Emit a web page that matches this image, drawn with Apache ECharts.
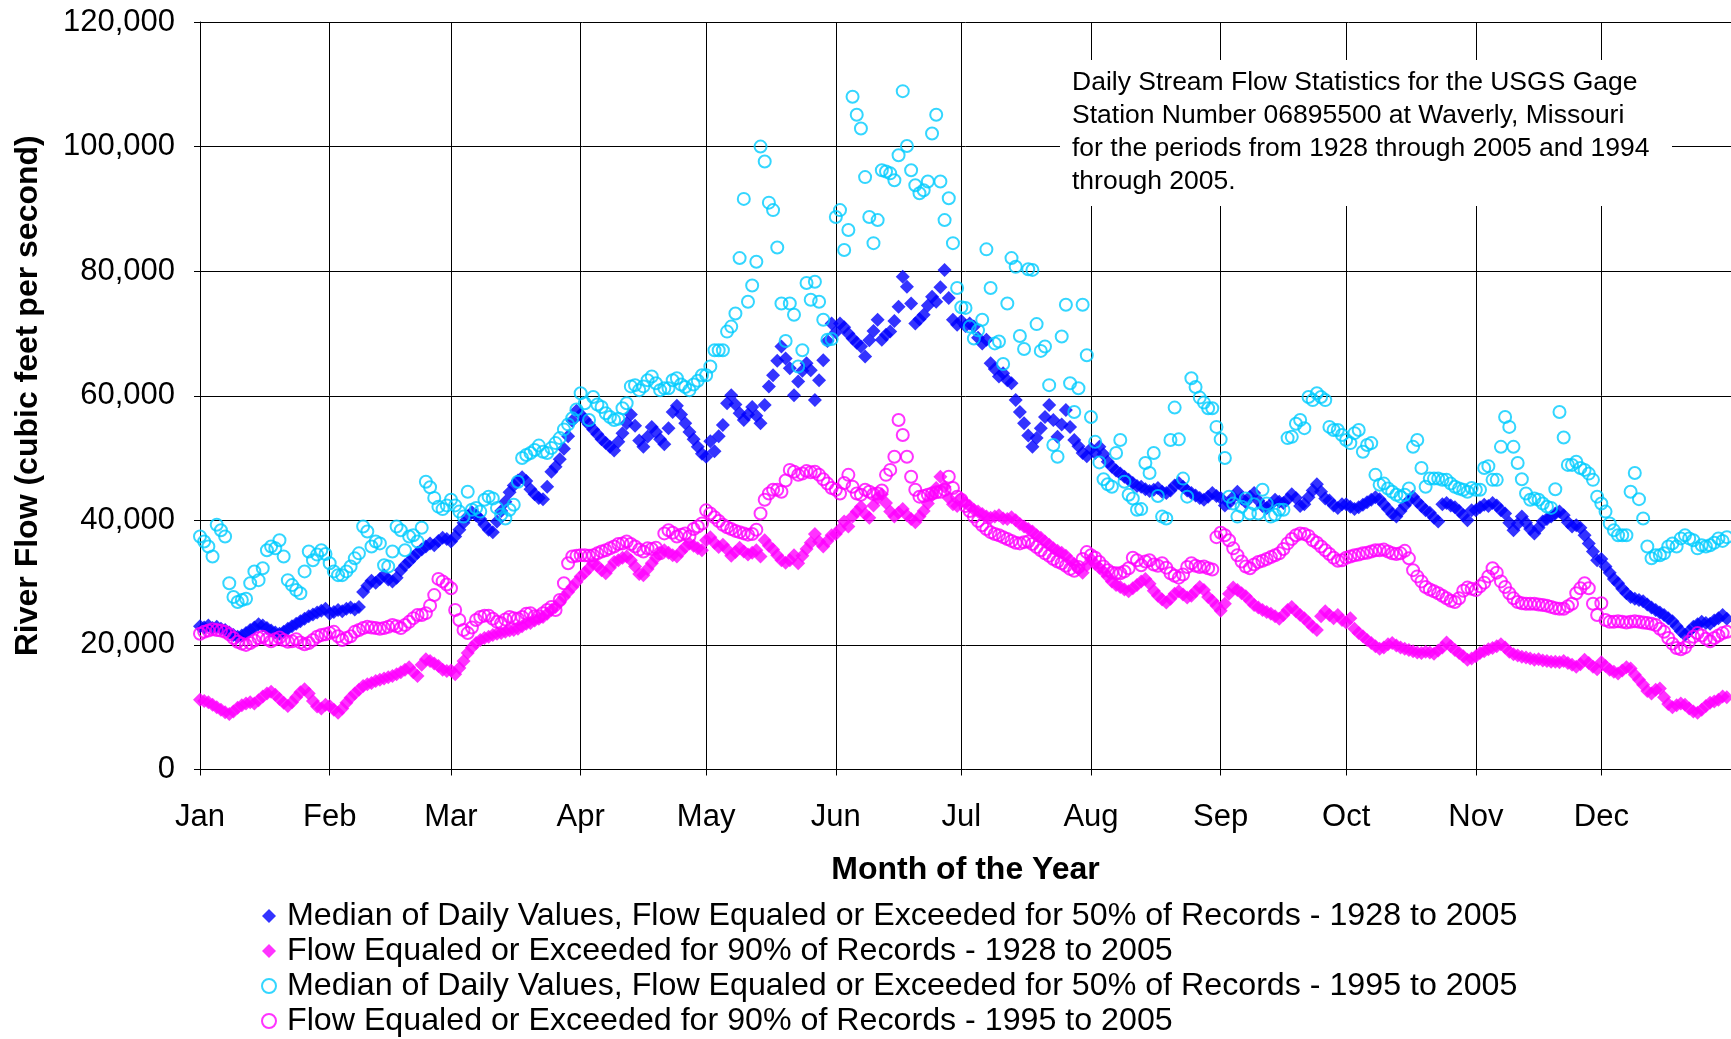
<!DOCTYPE html>
<html>
<head>
<meta charset="utf-8">
<title>Daily Stream Flow - Waverly, Missouri</title>
<script src="https://cdn.jsdelivr.net/npm/echarts@6/dist/echarts.min.js"></script>
<style>
  html, body { margin: 0; padding: 0; background: #fff; }
  #chart { width: 1731px; height: 1039px; }
</style>
</head>
<body>
<div id="chart"></div>
<script>
// month names and lengths (366-day year) -> one category per day
const months = ["Jan", "Feb", "Mar", "Apr", "May", "Jun", "Jul", "Aug", "Sep", "Oct", "Nov", "Dec"];
const monthDays = [31, 29, 31, 30, 31, 30, 31, 31, 30, 31, 30, 31];
const yTicks = [0, 20000, 40000, 60000, 80000, 100000, 120000];

// Median 1928-2005 (one row per month)
const median1928 = [
  23000,22800,23100,22700,22900,22600,22400,22000,21600,21300,21500,21900,22400,22800,23300,23100,22700,22300,22000,21800,22100,22600,23000,23400,23800,24200,24600,24900,25200,25500,25800,
  25000,25300,25600,25400,25800,26000,25700,26100,28500,29500,30300,30000,30600,31200,30500,30200,30800,32000,32800,33400,34100,34800,35300,35800,36300,36000,36700,37200,37000,
  36600,37400,38500,39600,40600,41300,40800,40200,39300,38500,38100,39800,41500,43000,44500,45600,46400,46900,46300,45000,44200,43600,43400,45400,47800,48600,49800,51500,53500,56000,57600,
  57000,56200,55400,54600,53800,53000,52400,51800,51200,52600,54000,55600,57000,55200,52800,51800,53400,55000,54200,53000,52200,54800,57400,58400,57000,55600,54200,53000,51800,50700,
  50200,52700,51100,53500,55300,58800,60100,58600,57200,56100,57000,58200,56800,55600,58500,61500,63300,65600,67900,66000,64400,60100,62300,64000,65200,64100,59300,62500,65700,68800,71600,
  70200,71600,71000,70000,69200,68500,67900,66300,68900,70400,72200,69000,69800,70300,72000,74300,79100,77500,74800,71600,72300,73000,74500,75900,75100,77400,80200,75700,72200,71400,
  72000,71200,71600,71100,69300,68400,69000,65200,64300,63100,63600,62500,62000,59300,57400,55600,53600,51800,53200,54800,56600,58500,56100,53400,55400,57700,55000,52900,51900,50800,50300,
  51500,50800,51800,50600,49400,48600,48000,47500,47000,46500,46000,45500,45400,45000,44700,44900,45200,44600,44400,44800,45600,46000,45400,44800,44400,44000,43600,43300,43800,44400,43900,
  43600,42400,42800,43700,44600,43500,42900,43800,44400,43200,42300,42000,42600,43300,43000,42800,43400,44200,43600,42300,42600,43700,44800,45800,44600,43500,43200,42400,42000,42600,
  42600,42200,41800,42100,42500,42900,43300,43700,43400,42600,41800,41000,40600,41500,42400,43200,43800,43000,42300,41600,41200,40400,39800,42600,42800,42400,42100,41500,40800,40000,41600,
  41600,42100,42500,42300,42800,42400,41600,41100,39600,38400,39400,40600,39600,38600,37900,38800,39800,40200,40600,41100,41400,40800,39700,39000,39200,38800,37600,36300,35000,33600,
  33800,32600,31600,30600,29900,29000,28300,27700,27400,27200,27000,26500,26000,25600,25200,24800,24300,23800,23000,22200,21600,22200,22900,23300,23700,23500,23400,23900,24300,24800,24200
];

// 90% exceedance 1928-2005
const low1928 = [
  11200,11000,10800,10400,10000,9600,9200,8900,9300,9900,10300,10600,10800,10600,11100,11700,12200,12500,12000,11300,10700,10200,10800,11600,12400,12900,12200,11000,10100,9800,10400,
  10200,9600,9100,9800,10700,11500,12200,12800,13400,13700,13900,14200,14400,14600,14800,15000,15300,15600,16000,16400,15600,15000,16800,17700,17400,17000,16600,16000,15800,
  15900,15300,16300,17400,18700,19600,20300,20800,21100,21300,21600,21800,21900,22100,22300,22400,22600,23000,23400,23500,23900,24200,24500,25000,25600,26100,26900,27700,28500,29300,30100,
  31000,31600,32300,33100,32700,32000,31500,32400,33300,33600,34000,34200,33600,32600,31400,31200,32200,33100,34000,34700,35200,34800,34400,34200,35000,35700,36300,35900,35500,35200,
  36800,37300,36400,35700,36100,35300,34300,34900,35600,35000,34500,34800,35200,34200,36800,35900,35300,34400,33600,33200,33600,34400,33100,34300,35400,36400,37800,36600,35800,36700,37600,
  37800,38600,39800,39000,40600,41400,42200,41000,40400,42400,43600,44200,42800,41400,40600,41200,41800,40800,40200,39700,40600,41500,42700,44000,45200,47000,45400,43600,42600,42300,
  43500,42800,42300,41700,41400,41000,40600,40400,40600,40800,40300,40200,40500,40000,39400,39000,38600,38200,37600,37200,36600,36100,35500,35100,34800,34300,33600,33000,32200,31600,32800,
  33800,33000,32400,31800,31000,30200,29600,29300,28900,28600,29100,29600,30200,30600,29800,28700,27900,27300,26800,27400,28200,28600,28100,27600,27900,28600,29300,28800,27700,27100,26300,
  25500,26600,28200,29200,28800,28300,27800,27100,26400,26000,25600,25300,25000,24600,24200,24800,25600,26100,25400,24800,24300,23600,22900,22400,24600,25400,24800,24300,24800,24000,
  23600,24300,22600,21900,21400,20800,20300,19800,19400,19600,20100,20300,19900,19600,19400,19200,19000,18800,18700,18900,18800,18600,19100,19600,20400,19800,19200,18700,18200,17600,17800,
  18200,18700,19000,19300,19500,19800,20100,19600,18900,18500,18300,18100,18000,17800,17600,17700,17500,17400,17300,17300,17200,17400,17100,16800,16500,16900,17600,17100,16500,16100,
  17200,16600,16000,15700,15400,15900,16400,16200,15200,14400,13600,12600,12200,12800,13000,11600,10500,10000,10300,10600,10400,9800,9300,9100,9600,10200,10700,10900,11200,11700,11600
];

// Median 1995-2005
const median1995 = [
  37400,36600,35800,34200,39300,38400,37400,29900,27700,26900,27200,27400,29900,31800,30400,32300,35200,35800,35500,36800,34200,30400,29600,28800,28300,31800,35000,33600,34500,35200,34600,
  33100,31800,31200,31200,31800,32600,33900,34700,39000,38200,35800,36600,36300,32800,32600,35000,39000,38400,35200,37400,37600,36600,38800,46200,45300,43600,42200,41800,42400,
  43300,42400,41400,40600,44600,41700,42000,41400,43300,43800,43500,42000,40900,40300,41700,42500,46200,50000,50500,50800,51300,52000,51000,50800,51600,52400,53200,54600,55400,56400,57800,
  60400,58800,56100,59800,58600,58200,57200,56600,56100,56300,58000,58800,61500,61700,60900,61500,62500,63100,62000,60900,61200,61200,62500,62800,61800,61400,60900,61800,62400,63300,
  63300,64700,67300,67300,67300,70300,71100,73200,82100,91600,75100,77700,81500,100000,97600,91000,89800,83800,74800,68800,74800,73000,64700,67300,78100,75400,78300,75100,72200,69000,69100,
  88700,89800,83400,86600,108000,105100,102900,95100,88700,84500,88200,96200,96000,95700,94600,98600,108900,100100,96200,93800,92500,93000,94400,102100,105100,94400,88200,91700,84500,77300,
  74200,74100,71100,69200,70500,72200,83500,77300,68400,68700,65100,74800,82100,80700,69600,67500,80300,80200,71500,67200,67900,61700,52100,50200,69500,74600,62000,57400,61200,74600,66500,
  56600,52600,49300,46600,45800,45400,50800,52900,46200,44100,43500,41700,41800,49200,47600,50800,43900,40600,40300,52900,58100,53000,46700,43800,62800,61400,59700,58900,58000,58000,55000,
  53000,50000,43800,42700,40600,42200,43500,41100,42600,41100,44900,42700,40600,40900,41700,41700,53200,53400,55500,56100,54800,59800,59300,60400,59800,59300,55000,54500,54500,53700,
  52900,52400,54000,54500,51000,52100,52400,47300,45700,45900,45100,44600,44100,43800,44100,45100,51800,52900,48400,45400,46700,46700,46700,46500,46500,45900,45400,45100,44900,44600,45200,
  44900,44900,48400,48700,46500,46500,51800,56600,55000,51800,49200,46600,44300,43300,43500,43300,42700,42200,42000,45000,57400,53300,48900,48900,49400,48400,48100,47500,46500,43800,
  42700,41400,39500,38400,37600,37600,37600,44600,47600,43400,40300,35800,33900,34400,34400,34700,35800,36300,35800,37100,37600,37100,36800,35500,36000,35800,36000,36400,37100,36700,37300
];

// 90% exceedance 1995-2005
const low1995 = [
  21800,22100,22300,22500,22400,22300,22100,21700,21100,20500,20200,20000,20300,20700,21100,21300,20900,20600,20900,21200,20800,20500,20600,20900,20400,20100,20300,20800,21300,21600,21700,
  21900,22100,21400,20800,21100,21400,22100,22400,22700,22900,22800,22700,22600,22700,22900,23200,23000,22700,23200,23700,24300,24800,24800,25100,26300,28000,30600,30200,29700,
  29100,25600,24000,22400,21900,22800,24000,24500,24700,24700,24200,23700,23500,24100,24500,24300,24200,24500,25000,25100,24600,24600,25100,25600,26100,25600,27200,29900,33100,34200,34300,
  34400,34400,34300,34400,34700,35000,35200,35500,35800,36200,36300,36600,36200,35800,35300,35000,35500,35400,35600,34700,37900,38400,38000,37400,37700,37900,37400,38600,39000,39500,
  41600,41100,40500,39900,39300,38900,38600,38300,38100,37900,37700,37800,38500,41100,43300,44300,44900,44900,44600,46400,48100,47800,47300,47500,47900,47700,47800,47300,46600,45900,45200,
  44900,44300,46000,47300,45400,44300,44100,44900,44600,44200,44300,44800,47300,48100,50200,56100,53700,50200,47000,44900,43800,43900,44100,44300,44500,44600,44900,47000,45200,43800,
  43300,42300,41500,40600,39900,39200,38600,38100,37800,37600,37300,37000,36700,36400,36300,36500,36600,36200,35700,35200,34700,34300,33800,33400,33100,32700,32200,31900,32500,33800,34900,
  34400,34000,33300,32600,32000,31600,31500,31500,31800,32300,34000,33600,32800,33400,33600,32900,32700,33100,32400,31500,31100,30800,31300,32500,33100,32700,32500,32600,32300,32100,37300,
  38000,37600,36800,35500,34400,33400,32600,32300,32900,33300,33500,33800,34100,34400,34700,35400,36300,37000,37600,37900,37800,37500,36800,36400,35800,35200,34600,34000,33500,33600,
  34000,34200,34400,34500,34700,34800,35000,35200,35200,35300,35000,34700,34600,34700,35100,33900,32000,31000,30200,29300,28900,28600,28300,27900,27500,27100,26900,27500,28700,29200,29000,
  28800,29400,30000,31000,32300,31600,30200,29300,28300,27500,26900,26700,26600,26600,26600,26500,26400,26300,26100,25900,25800,25800,26200,26600,28300,29100,29900,29100,26600,24800,
  26700,24000,23700,23700,23800,23700,23600,23700,23800,23700,23600,23500,23400,23200,22600,22100,21100,20200,19500,19300,19600,20500,21300,21900,21500,21000,20600,21100,21500,21900,22100
];

const seriesNames = [
  "Median of Daily Values, Flow Equaled or Exceeded for 50% of Records - 1928 to 2005",
  "Flow Equaled or Exceeded for 90% of Records - 1928 to 2005",
  "Median of Daily Values, Flow Equaled or Exceeded for 50% of Records - 1995 to 2005",
  "Flow Equaled or Exceeded for 90% of Records - 1995 to 2005"
];

const noteLines = [
  "Daily Stream Flow Statistics for the USGS Gage",
  "Station Number 06895500 at Waverly, Missouri",
  "for the periods from 1928 through 2005 and 1994",
  "through 2005."
];

// build the day categories, plus one spare slot so the axis ends after Dec 31
let days = [];
let monthStart = {};
months.forEach((m, i) => {
  monthStart[days.length] = m;
  for (let d = 1; d <= monthDays[i]; d++) days.push(m + " " + d);
});
days.push("");

const isMonthStart = (idx) => monthStart[idx] !== undefined;

const font = '"Liberation Sans", Arial, sans-serif';
const blue = "#0000FF";
const magenta = "#FF00FF";
const cyan = "#00CCFF";

let chart = echarts.init(document.getElementById("chart"));

let option = {
  animation: false,
  backgroundColor: "#fff",
  textStyle: { fontFamily: font, color: "#000" },
  grid: { left: 200, top: 22, right: 0, bottom: 269.5, containLabel: false },
  xAxis: {
    type: "category",
    data: days,
    boundaryGap: false,
    name: "Month of the Year",
    nameLocation: "middle",
    nameGap: 85,
    nameTextStyle: { fontSize: 32, fontWeight: "bold", color: "#000", fontFamily: font },
    axisLine: { lineStyle: { color: "#000", width: 1 } },
    axisTick: { show: true, length: 6, interval: isMonthStart, lineStyle: { color: "#000" } },
    axisLabel: {
      interval: isMonthStart,
      formatter: (v, idx) => monthStart[idx] || "",
      fontSize: 31,
      color: "#000",
      margin: 32,
      fontFamily: font,
    },
    splitLine: { show: true, interval: isMonthStart, lineStyle: { color: "#000", width: 1 } },
  },
  yAxis: {
    type: "value",
    min: yTicks[0],
    max: yTicks[yTicks.length - 1],
    interval: yTicks[1] - yTicks[0],
    name: "River Flow (cubic feet per second)",
    nameLocation: "middle",
    nameGap: 156,
    nameTextStyle: { fontSize: 32, fontWeight: "bold", color: "#000", fontFamily: font },
    axisLine: { show: true, lineStyle: { color: "#000", width: 1 } },
    axisTick: { show: true, length: 6, lineStyle: { color: "#000" } },
    axisLabel: {
      formatter: (v) => v.toLocaleString("en-US"),
      fontSize: 31,
      color: "#000",
      margin: 25,
      fontFamily: font,
    },
    splitLine: { show: true, lineStyle: { color: "#000", width: 1 } },
  },
  legend: {
    orient: "vertical",
    left: 261,
    top: 900,
    height: 139,
    padding: 0,
    itemWidth: 14,
    itemHeight: 14,
    itemGap: 3,
    textStyle: { fontSize: 32.2, color: "#000", fontFamily: font, padding: [0, 0, 0, 6] },
    data: [
      { name: seriesNames[0], icon: "diamond", itemStyle: { color: blue } },
      { name: seriesNames[1], icon: "diamond", itemStyle: { color: magenta } },
      { name: seriesNames[2], icon: "circle", itemStyle: { color: "#fff", borderColor: cyan, borderWidth: 2 } },
      { name: seriesNames[3], icon: "circle", itemStyle: { color: "#fff", borderColor: magenta, borderWidth: 2 } },
    ],
  },
  graphic: [
    {
      type: "rect",
      z: 10,
      shape: { x: 1060, y: 60, width: 612, height: 146 },
      style: { fill: "#fff" },
    },
    {
      type: "text",
      z: 11,
      x: 1072,
      y: 66,
      style: {
        text: noteLines.join("\n"),
        font: "26.5px " + font,
        lineHeight: 33,
        fill: "#000",
      },
    },
  ],
  series: [
    {
      name: seriesNames[0],
      type: "scatter",
      symbol: "diamond",
      symbolSize: 14,
      itemStyle: { color: blue },
      data: median1928,
    },
    {
      name: seriesNames[1],
      type: "scatter",
      symbol: "diamond",
      symbolSize: 14,
      itemStyle: { color: magenta },
      data: low1928,
    },
    {
      name: seriesNames[2],
      type: "scatter",
      symbol: "circle",
      symbolSize: 12,
      itemStyle: { color: "rgba(0,0,0,0)", borderColor: cyan, borderWidth: 2 },
      data: median1995,
    },
    {
      name: seriesNames[3],
      type: "scatter",
      symbol: "circle",
      symbolSize: 12,
      itemStyle: { color: "rgba(0,0,0,0)", borderColor: magenta, borderWidth: 2 },
      data: low1995,
    },
  ],
};

chart.setOption(option);
</script>
</body>
</html>
